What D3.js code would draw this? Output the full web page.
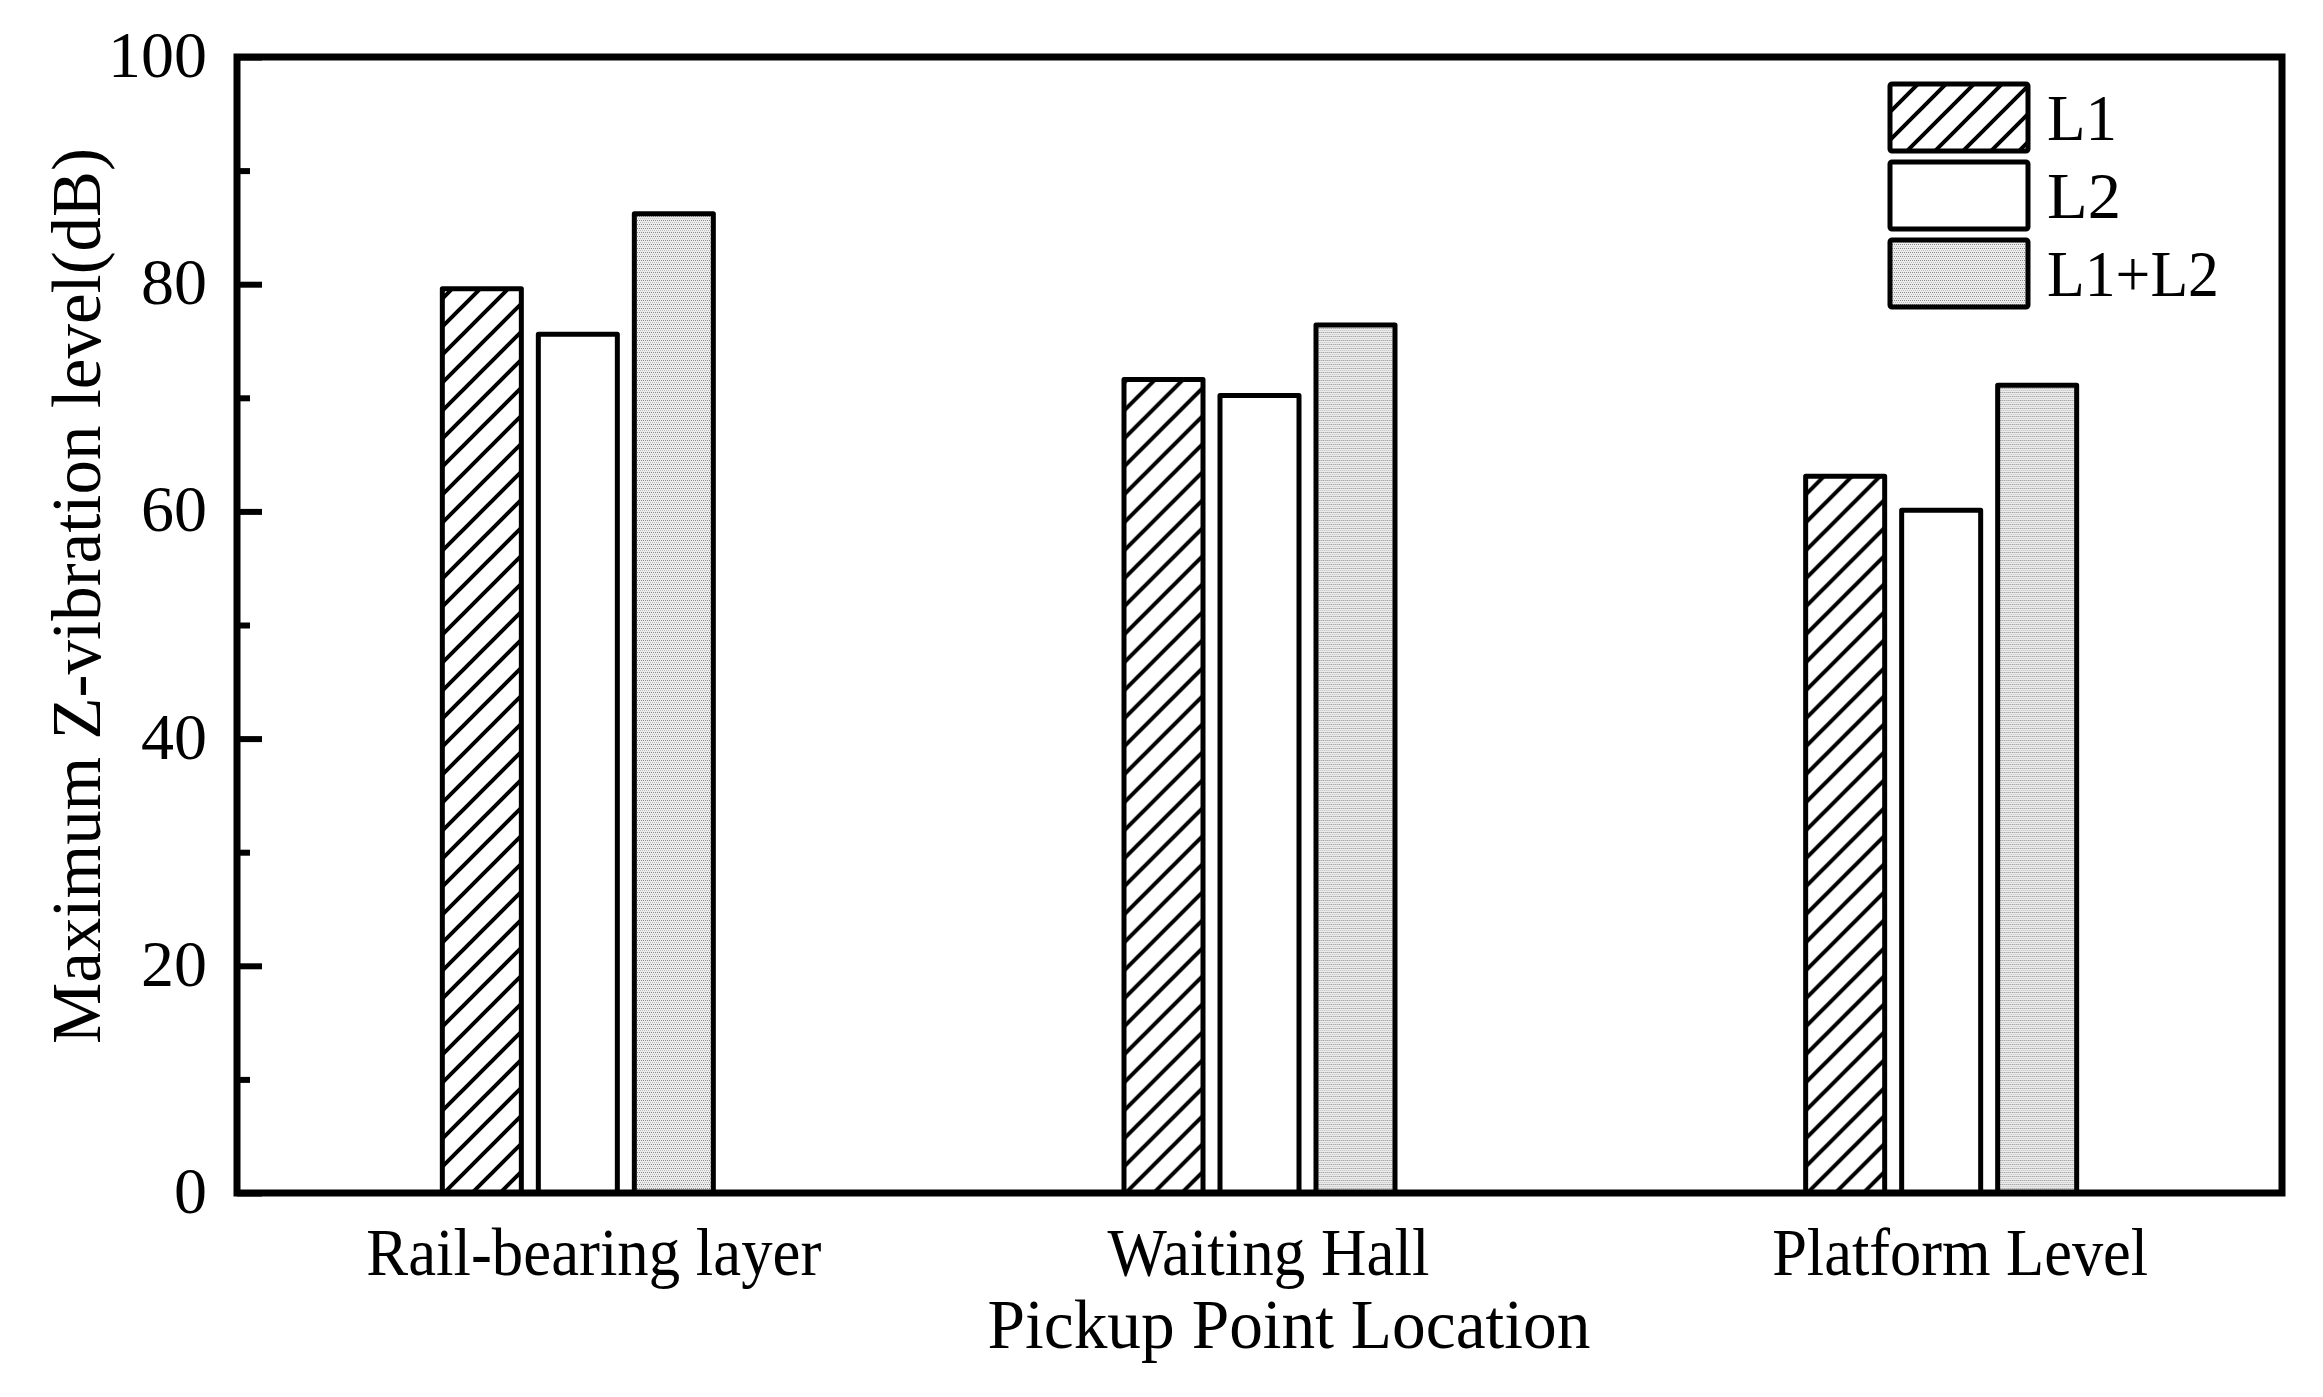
<!DOCTYPE html>
<html>
<head>
<meta charset="utf-8">
<script src="https://cdnjs.cloudflare.com/ajax/libs/d3/7.8.5/d3.min.js"></script>
<style>
  body { margin: 0; background: #fff; }
  text { font-family: "Liberation Serif", "Times New Roman", serif; fill: #000; }
</style>
</head>
<body>
<div class="root"></div>
<script>
const categories = ['Rail-bearing layer', 'Waiting Hall', 'Platform Level'];
const series = ['L1', 'L2', 'L1+L2'];
const valuesL1 = [79.6, 71.6, 63.1];
const valuesL2 = [75.6, 70.2, 60.1];
const valuesL1L2 = [86.2, 76.4, 71.1];
const yTicks = [0, 20, 40, 60, 80, 100];
const yMinorTicks = [10, 30, 50, 70, 90];

const width = 2323;
const height = 1397;
const plot = { left: 237, right: 2282, top: 57, bottom: 1193 };

const svg = d3.select('.root')
  .append('svg')
  .attr('width', width)
  .attr('height', height);

svg.append('rect').attr('width', width).attr('height', height).attr('fill', '#fff');

const defs = svg.append('defs');

// diagonal hatch for L1
const hatch = defs.append('pattern')
  .attr('id', 'hatch')
  .attr('patternUnits', 'userSpaceOnUse')
  .attr('width', 28)
  .attr('height', 28);
hatch.append('rect').attr('width', 28).attr('height', 28).attr('fill', '#fff');
hatch.append('path')
  .attr('d', 'M-7,7 L7,-7 M0,28 L28,0 M21,35 L35,21')
  .attr('stroke', '#000')
  .attr('stroke-width', 4);

// fine grey dot texture for L1+L2
const dots = defs.append('pattern')
  .attr('id', 'dots')
  .attr('patternUnits', 'userSpaceOnUse')
  .attr('width', 4)
  .attr('height', 4);
dots.append('rect').attr('width', 4).attr('height', 4).attr('fill', '#ececec');
[[0, 0, '#8a8a8a'], [2, 0, '#8a8a8a'], [1, 2, '#bdbdbd'], [3, 2, '#bdbdbd']]
  .forEach(([px, py, c]) => {
    dots.append('rect').attr('x', px).attr('y', py).attr('width', 1).attr('height', 1).attr('fill', c);
  });

const fills = { 'L1': 'url(#hatch)', 'L2': '#fff', 'L1+L2': 'url(#dots)' };

const data = categories.map((c, i) => ({
  category: c,
  values: [
    { key: 'L1', value: valuesL1[i] },
    { key: 'L2', value: valuesL2[i] },
    { key: 'L1+L2', value: valuesL1L2[i] }
  ]
}));

const x0 = d3.scaleBand()
  .domain(categories)
  .range([plot.left, plot.right])
  .padding(0);

const x1 = d3.scaleBand()
  .domain(series)
  .range([x0.bandwidth() / 2 - 144, x0.bandwidth() / 2 + 144])
  .paddingInner(0.177)
  .paddingOuter(0.0885);

const y = d3.scaleLinear()
  .domain([0, 100])
  .range([plot.bottom, plot.top]);

// bars
const groups = svg.selectAll('g.group')
  .data(data)
  .enter()
  .append('g')
  .attr('class', 'group')
  .attr('transform', d => `translate(${x0(d.category)},0)`);

groups.selectAll('rect')
  .data(d => d.values)
  .enter()
  .append('rect')
  .attr('x', d => x1(d.key))
  .attr('y', d => y(d.value))
  .attr('width', x1.bandwidth())
  .attr('height', d => y(0) - y(d.value))
  .attr('fill', d => fills[d.key])
  .attr('stroke', '#000')
  .attr('stroke-width', 5)
  .attr('stroke-linejoin', 'round');

// y axis ticks (inside)
const yAxis = svg.append('g')
  .attr('transform', `translate(${plot.left},0)`)
  .call(d3.axisRight(y).tickValues(yTicks).tickSize(25).tickFormat(''));
yAxis.select('.domain').remove();
yAxis.selectAll('line').attr('stroke', '#000').attr('stroke-width', 6);

const yMinor = svg.append('g')
  .attr('transform', `translate(${plot.left},0)`)
  .call(d3.axisRight(y).tickValues(yMinorTicks).tickSize(13).tickFormat(''));
yMinor.select('.domain').remove();
yMinor.selectAll('line').attr('stroke', '#000').attr('stroke-width', 6);

// y tick labels
svg.append('g')
  .selectAll('text')
  .data(yTicks)
  .enter()
  .append('text')
  .attr('x', 207)
  .attr('y', d => y(d) + 20)
  .attr('text-anchor', 'end')
  .attr('font-size', 66)
  .text(d => d);

// frame
svg.append('rect')
  .attr('x', plot.left)
  .attr('y', plot.top)
  .attr('width', plot.right - plot.left)
  .attr('height', plot.bottom - plot.top)
  .attr('fill', 'none')
  .attr('stroke', '#000')
  .attr('stroke-width', 7);

// category labels
const labelShift = [16, 9, 19];
const labelWidth = [455, 322, 376];
svg.append('g')
  .selectAll('text')
  .data(categories)
  .enter()
  .append('text')
  .attr('x', (d, i) => x0(d) + x0.bandwidth() / 2 + labelShift[i])
  .attr('y', 1275)
  .attr('text-anchor', 'middle')
  .attr('font-size', 68)
  .attr('textLength', (d, i) => labelWidth[i])
  .attr('lengthAdjust', 'spacingAndGlyphs')
  .text(d => d);

// axis titles
svg.append('text')
  .attr('x', 1289)
  .attr('y', 1348)
  .attr('text-anchor', 'middle')
  .attr('font-size', 70)
  .attr('textLength', 603)
  .attr('lengthAdjust', 'spacingAndGlyphs')
  .text('Pickup Point Location');

svg.append('text')
  .attr('transform', 'translate(100,596) rotate(-90)')
  .attr('text-anchor', 'middle')
  .attr('font-size', 70)
  .attr('textLength', 896)
  .attr('lengthAdjust', 'spacingAndGlyphs')
  .text('Maximum Z-vibration level(dB)');

// legend
const legend = svg.append('g')
  .selectAll('g')
  .data(series)
  .enter()
  .append('g')
  .attr('transform', (d, i) => `translate(1890,${84 + i * 78})`);

legend.append('rect')
  .attr('width', 138)
  .attr('height', 67)
  .attr('rx', 2)
  .attr('fill', d => fills[d])
  .attr('stroke', '#000')
  .attr('stroke-width', 5)
  .attr('stroke-linejoin', 'round');

legend.append('text')
  .attr('x', 157)
  .attr('y', 56)
  .attr('font-size', 66)
  .attr('textLength', d => ({ 'L1': 70, 'L2': 74, 'L1+L2': 172 })[d])
  .attr('lengthAdjust', 'spacingAndGlyphs')
  .text(d => d);
</script>
</body>
</html>
